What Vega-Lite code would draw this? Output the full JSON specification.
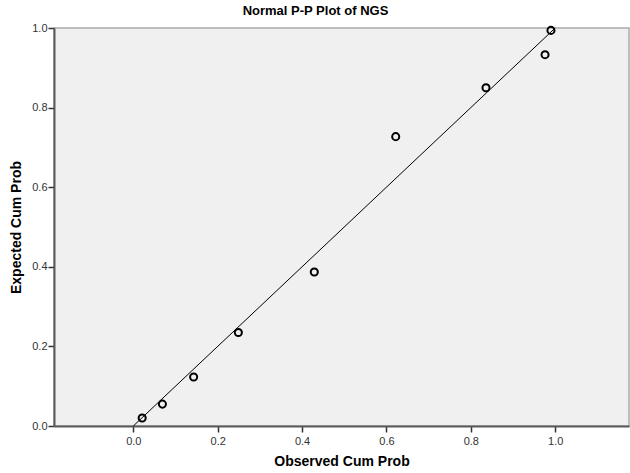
{
  "$schema": "https://vega.github.io/schema/vega-lite/v6.json",
  "autosize": "none",
  "width": 575,
  "height": 398,
  "padding": {"left": 54, "top": 28, "right": 1, "bottom": 47},
  "background": "white",
  "title": {
    "text": "Normal P-P Plot of NGS",
    "font": "Liberation Sans",
    "fontSize": 13,
    "fontWeight": "bold",
    "color": "#000000",
    "offset": 4,
    "dx": -26
  },
  "config": {
    "view": {"fill": "#f0f0f0", "stroke": "#aaaaaa", "strokeWidth": 1.5},
    "axis": {
      "grid": false,
      "domainColor": "#5a5a5a",
      "domainWidth": 2,
      "tickColor": "#333333",
      "tickWidth": 1.5,
      "tickSize": 6,
      "labelFont": "Liberation Sans",
      "labelFontSize": 11,
      "labelColor": "#333333",
      "titleFont": "Liberation Sans",
      "titleFontSize": 14,
      "titleFontWeight": "bold",
      "titleColor": "#000000"
    }
  },
  "layer": [
    {
      "data": {"values": [{"obs": 0, "exp": 0}, {"obs": 1, "exp": 1}]},
      "mark": {"type": "line", "color": "#000000", "strokeWidth": 1},
      "encoding": {
        "x": {"field": "obs", "type": "quantitative"},
        "y": {"field": "exp", "type": "quantitative"}
      }
    },
    {
      "data": {"values": [
        {"obs": 0.021, "exp": 0.02},
        {"obs": 0.069, "exp": 0.055},
        {"obs": 0.143, "exp": 0.123},
        {"obs": 0.249, "exp": 0.235},
        {"obs": 0.429, "exp": 0.387},
        {"obs": 0.622, "exp": 0.727},
        {"obs": 0.836, "exp": 0.85},
        {"obs": 0.976, "exp": 0.933},
        {"obs": 0.99, "exp": 0.994}
      ]},
      "mark": {"type": "point", "shape": "circle", "filled": false, "color": "#000000", "strokeWidth": 2, "size": 50, "opacity": 1},
      "encoding": {
        "x": {
          "field": "obs", "type": "quantitative",
          "scale": {"domain": [-0.188, 1.175], "nice": false, "zero": false},
          "axis": {"title": "Observed Cum Prob", "values": [0, 0.2, 0.4, 0.6, 0.8, 1.0], "format": ".1f", "labelPadding": 3, "titlePadding": 8}
        },
        "y": {
          "field": "exp", "type": "quantitative",
          "scale": {"domain": [0, 1], "nice": false},
          "axis": {"title": "Expected Cum Prob", "values": [0, 0.2, 0.4, 0.6, 0.8, 1.0], "format": ".1f", "labelPadding": 1, "titlePadding": 8}
        }
      }
    }
  ]
}
